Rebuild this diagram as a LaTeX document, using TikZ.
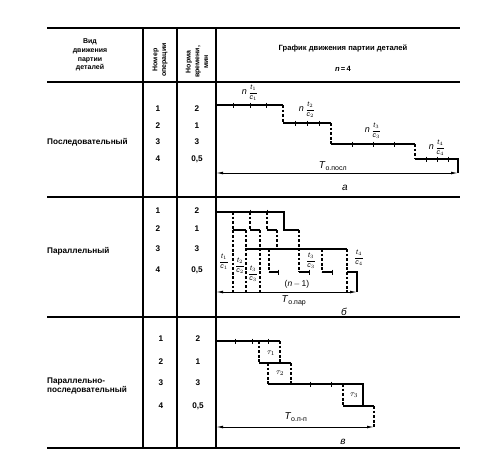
\documentclass[tikz,border=0pt]{standalone}
\usepackage{fontspec}
\usepackage{amsmath}
\setmainfont{Liberation Sans}
\usetikzlibrary{arrows.meta}
\newcommand{\fr}[2]{$\dfrac{\textit{t}_{#1}}{\textit{c}_{#2}}$}
\newcommand{\nfr}[1]{{\fontsize{9}{10}\selectfont\textit{n}}\hspace{1.5pt}\fr{#1}{#1}}
\begin{document}
\begin{tikzpicture}[x=1pt,y=-1pt,
  tbl/.style={line width=1.3pt},
  cl/.style={line width=1.1pt},
  dsh/.style={line width=1.1pt,dash pattern=on 2.8pt off 1.8pt},
  tk/.style={line width=1pt},
  dim/.style={line width=0.9pt,{Latex[length=7pt,width=2.8pt]}-{Latex[length=7pt,width=2.8pt]}},
  txt/.style={font=\fontsize{8.2}{9.5}\selectfont\bfseries, inner sep=0pt},
  hdr/.style={font=\fontsize{7}{8.7}\selectfont\bfseries, inner sep=0pt, align=center},
  ttl/.style={font=\fontsize{7.6}{9}\selectfont\bfseries, inner sep=0pt},
  lbl/.style={font=\fontsize{7}{8}\selectfont, inner sep=0pt},
  mid/.style={font=\fontsize{8.5}{10}\selectfont, inner sep=0pt},
  big/.style={font=\fontsize{10}{11}\selectfont, inner sep=0pt},
]
\useasboundingbox (0,0) rectangle (500,456);
% table
\foreach \yy in {28,82,197,317,448} \draw[tbl] (47,\yy) -- (460,\yy);
\foreach \xx in {143,177,216} \draw[tbl] (\xx,28) -- (\xx,448);
% header
\node[hdr] (hvid) at (90,55) {Вид\\движения\\партии\\деталей};
\node[hdr, rotate=90] (hnum) at (160,60) {Номер\\операции};
\node[hdr, rotate=90] (hnorm) at (197,62) {Норма\\времени,\\мин};
\node[ttl] (hgraf) at (343,48) {График движения партии деталей};
\node[ttl] (hn) at (343,69) {\textit{n}\,=\,4};
% row labels
\node[txt, anchor=west] (ra) at (47,142) {Последовательный};
\node[txt, anchor=west] (rb) at (47,251) {Параллельный};
\node[txt, anchor=west, align=left] (rc) at (47,386) {Параллельно-\\последовательный};
% numbers
\foreach \i/\yy/\v in {1/109/2,2/126/1,3/142/3,4/159/{0,5}} {
  \node[txt] (an\i) at (158,\yy) {\i};
  \node[txt] (at\i) at (197,\yy) {\v};
}
\foreach \i/\yy/\v in {1/211/2,2/229/1,3/249/3,4/270/{0,5}} {
  \node[txt] (bn\i) at (158,\yy) {\i};
  \node[txt] (bt\i) at (197,\yy) {\v};
}
\foreach \i/\yy/\v in {1/339/2,2/362/1,3/383/3,4/406/{0,5}} {
  \node[txt] (cn\i) at (161,\yy) {\i};
  \node[txt] (ct\i) at (198,\yy) {\v};
}
% ---------- chart a ----------
\draw[cl] (216,105) -- (283,105);
\draw[dsh] (283,105) -- (283,123);
\draw[cl] (283,123) -- (331,123);
\draw[dsh] (331,123) -- (331,144);
\draw[cl] (331,144) -- (415,144);
\draw[dsh] (415,144) -- (415,159);
\draw[cl] (415,159) -- (458,159) -- (458,173);
\foreach \tx in {233,250,266} \draw[tk] (\tx,102.5) -- (\tx,107.5);
\foreach \tx in {295,307,319} \draw[tk] (\tx,120.5) -- (\tx,125.5);
\foreach \tx in {352,373,394} \draw[tk] (\tx,141.5) -- (\tx,146.5);
\foreach \tx in {426,437,448} \draw[tk] (\tx,156.5) -- (\tx,161.5);
\coordinate (aL) at (216,173);
\coordinate (aR) at (458,173);
\draw[dim] (aL) -- (aR);
\node[lbl] (la1) at (250,93) {\nfr{1}};
\node[lbl] (la2) at (307,110) {\nfr{2}};
\node[lbl] (la3) at (373,131) {\nfr{3}};
\node[lbl] (la4) at (437,148) {\nfr{4}};
\node[big] (Ta) at (333,166) {\textit{T}$_{\text{о.посл}}$};
\node[big] (ca) at (345,188) {\textit{а}};
% ---------- chart b ----------
\draw[cl] (216,212) -- (284,212) -- (284,230) -- (299,230);
\foreach \tx in {250,267} \draw[tk] (\tx,209.5) -- (\tx,214.5);
\draw[dsh] (233,212) -- (233,292);
\draw[dsh] (250,212) -- (250,230);
\draw[dsh] (267,212) -- (267,230);
\draw[cl] (233,230) -- (246,230);
\draw[cl] (250,230) -- (260,230);
\draw[cl] (267,230) -- (277,230);
\draw[dsh] (246,230) -- (246,292);
\draw[dsh] (260,230) -- (260,292);
\draw[dsh] (277,230) -- (277,249);
\draw[dsh] (299,230) -- (299,272);
\draw[cl] (246,249) -- (347,249);
\draw[dsh] (269,249) -- (269,272);
\draw[dsh] (322,249) -- (322,272);
\draw[dsh] (347,249) -- (347,292);
\draw[cl] (269,272) -- (278,272);
\draw[cl] (299,272) -- (309,272);
\draw[cl] (322,272) -- (332,272);
\foreach \tx in {278,309,332} \draw[tk] (\tx,269.5) -- (\tx,274.5);
\draw[cl] (347,272) -- (357,272) -- (357,292);
\coordinate (bL) at (216,292);
\coordinate (bR) at (357,292);
\draw[dim] (bL) -- (bR);
\node[lbl] (lb1) at (224,262) {\fr{1}{1}};
\node[lbl] (lb2) at (240,266) {\fr{2}{2}};
\node[lbl] (lb3) at (253,274) {\fr{3}{3}};
\node[lbl] (lb3b) at (311,261) {\fr{3}{3}};
\node[lbl] (lb4) at (359,258) {\fr{4}{4}};
\node[mid] (lbn) at (297,284) {(\textit{n}\,$-$\,1)};
\node[big] (Tb) at (294,301) {\textit{T}$_{\text{о.пар}}$};
\node[big] (cb) at (344,312) {\textit{б}};
% ---------- chart c ----------
\draw[cl] (216,341) -- (280,341);
\foreach \tx in {235,252,268} \draw[tk] (\tx,338.5) -- (\tx,343.5);
\draw[dsh] (259,341) -- (259,363);
\draw[dsh] (280,341) -- (280,363);
\draw[cl] (259,363) -- (291,363);
\draw[dsh] (268,363) -- (268,384);
\draw[dsh] (291,363) -- (291,384);
\draw[cl] (268,384) -- (363,384) -- (363,406);
\foreach \tx in {310,331} \draw[tk] (\tx,381.5) -- (\tx,386.5);
\draw[dsh] (343,384) -- (343,406);
\draw[cl] (343,406) -- (374,406);
\draw[dsh] (374,406) -- (374,427);
\coordinate (cL) at (216,427);
\coordinate (cR) at (374,427);
\draw[dim] (cL) -- (cR);
\node[mid] (t1) at (271,353) {$\tau_1$};
\node[mid] (t2) at (280,373) {$\tau_2$};
\node[mid] (t3) at (354,395) {$\tau_3$};
\node[big] (Tc) at (296,417) {\textit{T}$_{\text{о.п-п}}$};
\node[big] (cc) at (343,442) {\textit{в}};
\end{tikzpicture}
\end{document}
